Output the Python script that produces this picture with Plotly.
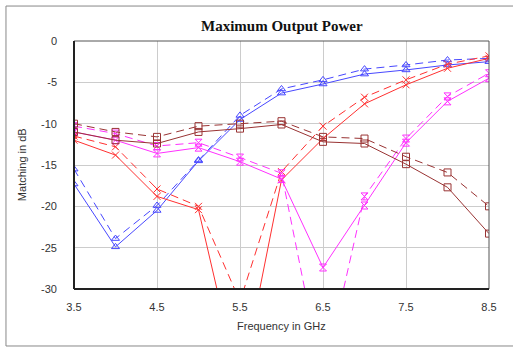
import plotly.graph_objects as go

# Frequency points (GHz)
freq = [3.5, 4.0, 4.5, 5.0, 5.5, 6.0, 6.5, 7.0, 7.5, 8.0, 8.5]

# Matching (dB) per port, solid = measured, dashed = simulated
blue_solid = [-17.3, -24.9, -20.5, -14.5, -9.5, -6.3, -5.2, -4.0, -3.5, -2.9, -2.5]
blue_dash = [-15.5, -23.9, -19.9, -14.4, -9.0, -5.8, -4.7, -3.4, -2.9, -2.3, -2.1]
red_solid = [-12.0, -13.8, -18.8, -20.4, -42.0, -16.8, -11.8, -7.6, -5.3, -3.3, -2.1]
red_dash = [-11.5, -12.8, -17.9, -20.0, -31.5, -15.8, -10.3, -6.8, -4.7, -2.8, -1.8]
mag_solid = [-11.0, -12.0, -13.6, -12.9, -14.6, -16.7, -27.4, -19.9, -12.3, -7.3, -4.5]
mag_dash = [-10.3, -11.2, -12.7, -12.3, -14.1, -16.0, -41.0, -18.8, -11.8, -6.7, -3.9]
brown_solid = [-11.0, -12.0, -12.4, -11.0, -10.6, -10.1, -12.2, -12.4, -14.9, -17.7, -23.3]
brown_dash = [-10.0, -11.0, -11.6, -10.3, -10.0, -9.7, -11.6, -11.8, -14.0, -15.9, -20.0]

x_ticks = [3.5, 4.5, 5.5, 6.5, 7.5, 8.5]
x_tick_text = ["3.5", "4.5", "5.5", "6.5", "7.5", "8.5"]
y_ticks = [0, -5, -10, -15, -20, -25, -30]
y_tick_text = ["0", "-5", "-10", "-15", "-20", "-25", "-30"]

BLUE = "#4848ff"
RED = "#ff3030"
MAGENTA = "#ff30ff"
BROWN = "#993333"
DASH = "8px,5px"

series = [
    (blue_solid, BLUE, "solid", "triangle-up-open"),
    (blue_dash, BLUE, DASH, "triangle-up-open"),
    (red_solid, RED, "solid", "x-thin-open"),
    (red_dash, RED, DASH, "x-thin-open"),
    (mag_solid, MAGENTA, "solid", "hourglass-open"),
    (mag_dash, MAGENTA, DASH, "hourglass-open"),
    (brown_solid, BROWN, "solid", "square-open"),
    (brown_dash, BROWN, DASH, "square-open"),
]

fig = go.Figure()
for vals, color, dash, sym in series:
    fig.add_trace(go.Scatter(
        x=freq, y=vals, mode="lines+markers",
        line=dict(color=color, width=1, dash=dash),
        marker=dict(symbol=sym, size=7, color=color, line=dict(color=color, width=1)),
        showlegend=False,
    ))

tick_font = dict(family="Liberation Sans, Arial, sans-serif", size=11, color="#333333")

fig.update_layout(
    width=513, height=347,
    margin=dict(l=74, r=24, t=41, b=58),
    paper_bgcolor="white", plot_bgcolor="white",
    xaxis=dict(
        range=[3.5, 8.5], tickvals=x_ticks, ticktext=x_tick_text,
        showgrid=True, gridcolor="#cccccc", gridwidth=1,
        showline=False, zeroline=False, ticks="", tickfont=tick_font,
        ticklabelstandoff=10,
    ),
    yaxis=dict(
        range=[-30, 0], tickvals=y_ticks, ticktext=y_tick_text,
        showgrid=True, gridcolor="#cccccc", gridwidth=1,
        showline=False, zeroline=False, ticks="", tickfont=tick_font,
        ticklabelstandoff=16,
    ),
    shapes=[
        # outer frame
        dict(type="rect", xref="paper", yref="paper", x0=-0.1639, x1=1.062,
             y0=-0.2298, y1=1.141, line=dict(color="#888888", width=1), layer="below"),
        # plot box: top and right
        dict(type="line", xref="paper", yref="paper", x0=0, x1=1, y0=1, y1=1,
             line=dict(color="#555555", width=1)),
        dict(type="line", xref="paper", yref="paper", x0=1, x1=1, y0=0, y1=1,
             line=dict(color="#555555", width=1)),
        # plot box: left and bottom axes
        dict(type="line", xref="paper", yref="paper", x0=0, x1=0, y0=0, y1=1,
             line=dict(color="#222222", width=2)),
        dict(type="line", xref="paper", yref="paper", x0=0, x1=1, y0=0, y1=0,
             line=dict(color="#222222", width=2)),
    ],
    annotations=[
        dict(text="<b>Maximum Output Power</b>", xref="paper", yref="paper",
             x=0.5, y=1.06, showarrow=False, xanchor="center", yanchor="middle",
             font=dict(family="Liberation Serif, Times New Roman, serif", size=15, color="#111111")),
        dict(text="Matching in dB", xref="paper", yref="paper",
             x=-0.125, y=0.5, showarrow=False, textangle=-90,
             xanchor="center", yanchor="middle",
             font=dict(family="Liberation Sans, Arial, sans-serif", size=11, color="#333333")),
        dict(text="Frequency in GHz", xref="paper", yref="paper",
             x=0.5, y=-0.15, showarrow=False, xanchor="center", yanchor="middle",
             font=dict(family="Liberation Sans, Arial, sans-serif", size=11, color="#333333")),
    ],
)

fig.write_html("out.html")
